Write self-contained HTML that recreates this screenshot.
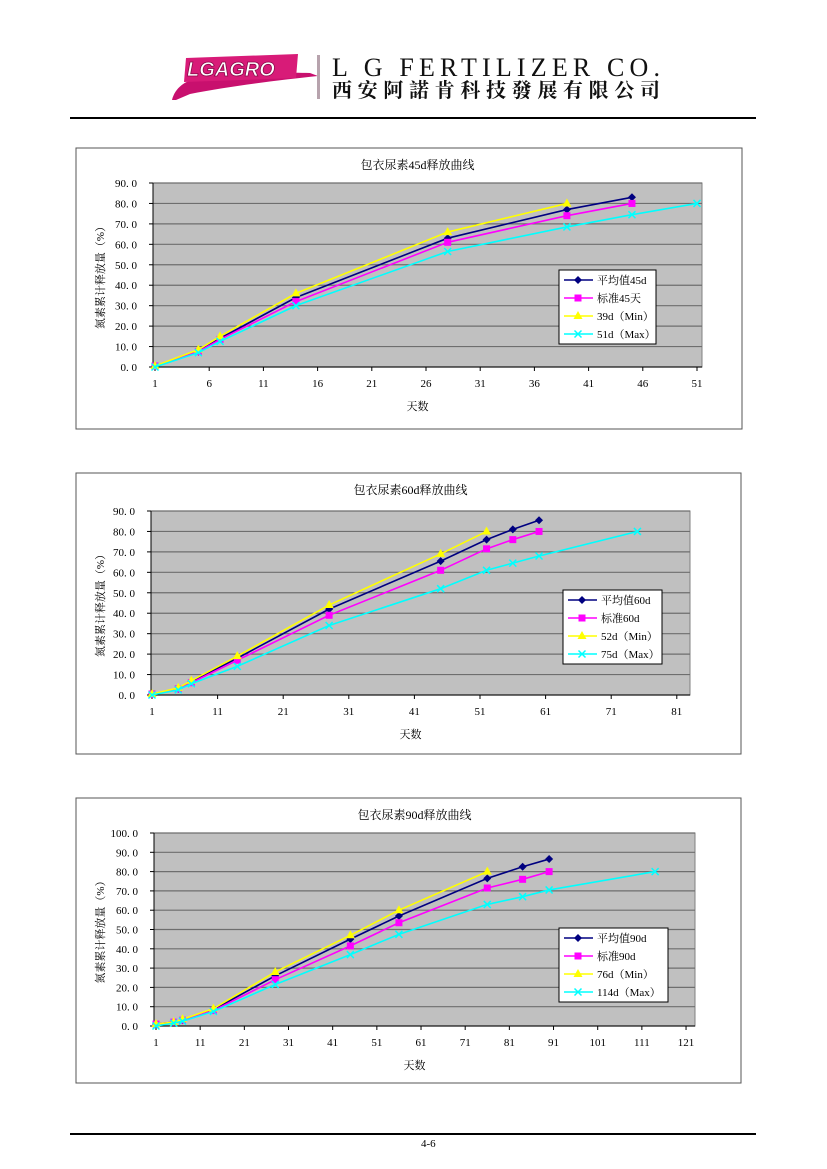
<!DOCTYPE html>
<html><head><meta charset="utf-8">
<style>
html,body{margin:0;padding:0;background:#fff;}
svg{display:block;font-family:"Liberation Serif","Noto Serif CJK SC","Noto Sans CJK SC",serif;}
</style></head>
<body>
<svg id="page" width="827" height="1169" viewBox="0 0 827 1169" xmlns="http://www.w3.org/2000/svg">
  <g>
    <path d="M172,100 C175,88 185,80 200,78 C240,74 280,72 310,73 L318,76 C280,80 230,86 190,94 L176,100 Z" fill="#c8106e"/>
    <path d="M186,58 L298,54 L296,78 L184,82 Z" fill="#d81b78"/>
    <text x="187" y="76" font-family="Liberation Sans,sans-serif" font-weight="bold" font-style="italic" font-size="20" fill="#fff" stroke="#8a0a4a" stroke-width="0.8">LGAGRO</text>
    <rect x="317" y="55" width="3" height="44" fill="#b7a3ad"/>
    <text x="332" y="76" font-size="26" fill="#111" textLength="328">L G FERTILIZER CO.</text>
    <text x="332" y="97" font-family="'Noto Serif CJK SC','Noto Sans CJK SC',serif" font-size="20" font-weight="bold" fill="#111" textLength="328">西安阿諾肯科技發展有限公司</text>
    <rect x="70" y="117" width="686" height="2" fill="#000"/>
  </g>
  <g id="charts"></g>
  <g>
    <rect x="70" y="1133" width="686" height="2" fill="#000"/>
    <text x="421" y="1147" font-size="11" fill="#000">4-6</text>
  </g>
</svg>
<script>
// Chart 1 data
const c1Days = [1, 5, 7, 14, 28, 39, 45, 51];
const c1Mean = [0.5, 7.5, 14, 34, 63, 77, 83];
const c1Std = [0.5, 7.5, 13.5, 32, 61, 74, 80];
const c1Min = [0.5, 8.5, 15, 36, 66, 80];
const c1Max = [0, 7, 12.5, 30, 56.5, 68.5, 74.5, 80];
const c1XTicks = [1, 6, 11, 16, 21, 26, 31, 36, 41, 46, 51];
const c1YTicks = [0, 10, 20, 30, 40, 50, 60, 70, 80, 90];
const c1Legend = ["平均值45d", "标准45天", "39d（Min）", "51d（Max）"];
// Chart 2 data
const c2Days = [1, 5, 7, 14, 28, 45, 52, 56, 60, 75];
const c2Mean = [0.5, 3, 6.5, 18, 42, 65.5, 76, 81, 85.5];
const c2Std = [0.5, 3, 6, 17, 39, 61, 71.5, 76, 80];
const c2Min = [0.5, 3.5, 7, 19, 44, 69, 80];
const c2Max = [0, 2.5, 5.5, 14, 34, 52, 61, 64.5, 68, 80];
const c2XTicks = [1, 11, 21, 31, 41, 51, 61, 71, 81];
const c2YTicks = [0, 10, 20, 30, 40, 50, 60, 70, 80, 90];
const c2Legend = ["平均值60d", "标准60d", "52d（Min）", "75d（Max）"];
// Chart 3 data
const c3Days = [1, 5, 7, 14, 28, 45, 56, 76, 84, 90, 114];
const c3Mean = [1, 2, 3, 8.5, 26, 45, 57, 76.5, 82.5, 86.5];
const c3Std = [1, 2, 3, 8, 24, 41.5, 53.5, 71.5, 76, 80];
const c3Min = [1, 2, 3.5, 9, 28, 47, 60, 80];
const c3Max = [0, 1.5, 2.5, 7.5, 21.5, 37, 47.5, 63, 67, 70.5, 80];
const c3XTicks = [1, 11, 21, 31, 41, 51, 61, 71, 81, 91, 101, 111, 121];
const c3YTicks = [0, 10, 20, 30, 40, 50, 60, 70, 80, 90, 100];
const c3Legend = ["平均值90d", "标准90d", "76d（Min）", "114d（Max）"];

const NS = "http://www.w3.org/2000/svg";
function mk(parent, tag, attrs, text) {
  const e = document.createElementNS(NS, tag);
  for (const k in attrs) e.setAttribute(k, attrs[k]);
  if (text !== undefined) e.textContent = text;
  parent.appendChild(e);
  return e;
}
const COLORS = ["#000080", "#ff00ff", "#ffff00", "#00ffff"];
const KEYS = ["mean", "std", "min", "max"];

function marker(g, type, x, y, color) {
  let m;
  if (type === 0) m = mk(g, "polygon", {points: `${x},${y-4} ${x+4},${y} ${x},${y+4} ${x-4},${y}`, fill: color});
  else if (type === 1) m = mk(g, "rect", {x: x-3.5, y: y-3.5, width: 7, height: 7, fill: color});
  else if (type === 2) m = mk(g, "polygon", {points: `${x},${y-5} ${x+4.5},${y+3} ${x-4.5},${y+3}`, fill: color});
  else m = mk(g, "path", {d: `M${x-3.5},${y-3.5}L${x+3.5},${y+3.5}M${x+3.5},${y-3.5}L${x-3.5},${y+3.5}`, stroke: color, "stroke-width": 1.5});
  return m;
}

function chart(cfg) {
  const root = document.getElementById("charts");
  const g = mk(root, "g", {});
  
  
  const frame = mk(g, "rect", {x: cfg.fx, y: cfg.fy, width: cfg.fw, height: cfg.fh, fill: "#fff", stroke: "#555", "stroke-width": 1});
  
  
  const t = mk(g, "text", {x: (cfg.px0 + cfg.px1) / 2 - 10, y: cfg.fy + 21, "font-size": 12, "text-anchor": "middle"}, cfg.title);
  
  
  const ymax = cfg.yTicks[cfg.yTicks.length - 1];
  const yS = v => cfg.py1 - (v / ymax) * (cfg.py1 - cfg.py0);
  const xS = d => cfg.dx0 + (d - cfg.xTicks[0]) * cfg.dpx;
  const plot = mk(g, "rect", {x: cfg.px0, y: cfg.py0, width: cfg.px1 - cfg.px0, height: cfg.py1 - cfg.py0, fill: "#c0c0c0", stroke: "#808080"});
  
  
  cfg.yTicks.forEach(v => {
    const y = yS(v);
    const gl = mk(g, "line", {x1: cfg.px0, x2: cfg.px1, y1: y, y2: y, stroke: "#6e6e6e", "stroke-width": 1.2});
    
    
    mk(g, "line", {x1: cfg.px0 - 4, x2: cfg.px0, y1: y, y2: y, stroke: "#000"});
    const lb = mk(g, "text", {x: cfg.px0 - 16, y: y + 4, "font-size": 11, "text-anchor": "end"}, v.toFixed(1).replace(".", ". "));
    
    
  });
  mk(g, "line", {x1: cfg.px0, x2: cfg.px0, y1: cfg.py0, y2: cfg.py1, stroke: "#000"});
  mk(g, "line", {x1: cfg.px0, x2: cfg.px1, y1: cfg.py1, y2: cfg.py1, stroke: "#000"});
  cfg.xTicks.forEach(d => {
    const x = xS(d);
    mk(g, "line", {x1: x, x2: x, y1: cfg.py1, y2: cfg.py1 + 4, stroke: "#000"});
    const lb = mk(g, "text", {x: x, y: cfg.py1 + 20, "font-size": 11, "text-anchor": "middle"}, String(d));
    
    
  });
  const xt = mk(g, "text", {x: (cfg.px0 + cfg.px1) / 2 - 10, y: cfg.py1 + 43, "font-size": 11, "text-anchor": "middle"}, "天数");
  
  
  const ym = (cfg.py0 + cfg.py1) / 2;
  const yt = mk(g, "text", {x: 104, y: ym, "font-size": 11, "text-anchor": "middle", transform: `rotate(-90 104 ${ym})`}, "氮素累计释放量（%）");
  
  
  cfg.series.forEach((vals, si) => {
    const sg = mk(g, "g", {});
    
    
    const pts = vals.map((v, i) => [xS(cfg.days[i]), yS(v)]);
    mk(sg, "polyline", {points: pts.map(p => p.join(",")).join(" "), fill: "none", stroke: COLORS[si], "stroke-width": 1.6});
    pts.forEach(p => {
      const m = marker(sg, si, p[0], p[1], COLORS[si]);
      
      
    });
  });
  const lg = mk(g, "g", {});
  
  
  mk(lg, "rect", {x: cfg.lx, y: cfg.ly, width: cfg.lw, height: 74, fill: "#fff", stroke: "#000"});
  cfg.legend.forEach((txt, i) => {
    const y = cfg.ly + 10 + i * 18;
    const e = mk(lg, "g", {});
    
    
    mk(e, "line", {x1: cfg.lx + 5, x2: cfg.lx + 34, y1: y, y2: y, stroke: COLORS[i], "stroke-width": 1.6});
    marker(e, i, cfg.lx + 19, y, COLORS[i]);
    mk(e, "text", {x: cfg.lx + 38, y: y + 4, "font-size": 11}, txt);
  });
}

chart({name: "chart-45d", title: "包衣尿素45d释放曲线", fx: 76, fy: 148, fw: 666, fh: 281,
  px0: 153, px1: 702, py0: 183, py1: 367, dx0: 155, dpx: 10.84,
  xTicks: c1XTicks, yTicks: c1YTicks, days: c1Days,
  series: [c1Mean, c1Std, c1Min, c1Max], legend: c1Legend, lx: 559, ly: 270, lw: 97});
chart({name: "chart-60d", title: "包衣尿素60d释放曲线", fx: 76, fy: 473, fw: 665, fh: 281,
  px0: 151, px1: 690, py0: 511, py1: 695, dx0: 152, dpx: 6.56,
  xTicks: c2XTicks, yTicks: c2YTicks, days: c2Days,
  series: [c2Mean, c2Std, c2Min, c2Max], legend: c2Legend, lx: 563, ly: 590, lw: 99});
chart({name: "chart-90d", title: "包衣尿素90d释放曲线", fx: 76, fy: 798, fw: 665, fh: 285,
  px0: 154, px1: 695, py0: 833, py1: 1026, dx0: 156, dpx: 4.417,
  xTicks: c3XTicks, yTicks: c3YTicks, days: c3Days,
  series: [c3Mean, c3Std, c3Min, c3Max], legend: c3Legend, lx: 559, ly: 928, lw: 109});
</script>
</body></html>
